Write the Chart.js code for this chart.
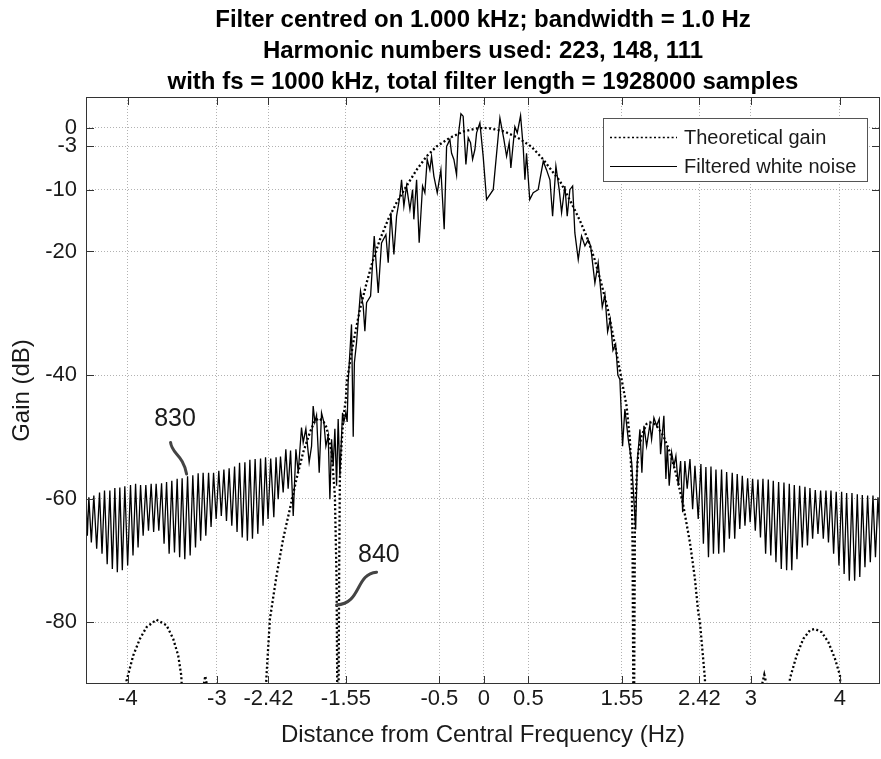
<!DOCTYPE html>
<html>
<head>
<meta charset="utf-8">
<script src="https://cdn.jsdelivr.net/npm/chart.js@4/dist/chart.umd.min.js"></script>
<style>
  html, body { margin: 0; padding: 0; background: #fff; }
</style>
</head>
<body>
<canvas id="canvas" width="881" height="759"></canvas>
<script>
// title, axis names and legend entries
let titleLines = [
  'Filter centred on 1.000 kHz; bandwidth = 1.0 Hz',
  'Harmonic numbers used: 223, 148, 111',
  'with fs = 1000 kHz, total filter length = 1928000 samples'
];
let xTitle = 'Distance from Central Frequency (Hz)';
let yTitle = 'Gain (dB)';
let seriesNames = ['Theoretical gain', 'Filtered white noise'];

// the odd tick positions the original figure uses
let xTicks = [-4, -3, -2.42, -1.55, -0.5, 0, 0.5, 1.55, 2.42, 3, 4];
let xTickLabels = ['-4', '-3', '-2.42', '-1.55', '-0.5', '0', '0.5', '1.55', '2.42', '3', '4'];
let yTicks = [0, -3, -10, -20, -40, -60, -80];

// theoretical gain (dotted); -100 = below the axis floor
let gainHz = [
  -4.47, -4.06, -4.015, -3.94, -3.865, -3.79, -3.678, -3.565, -3.49, -3.434,
  -3.40, -3.36, -3.20, -3.17, -3.13, -3.09, -3.06, -2.48, -2.442, -2.404,
  -2.33, -2.255, -2.18, -2.105, -2.03, -1.955, -1.899, -1.85, -1.80, -1.767,
  -1.711, -1.674, -1.655, -1.648, -1.644, -1.638, -1.632, -1.625, -1.618, -1.60,
  -1.58, -1.551, -1.54, -1.468, -1.393, -1.318, -1.244, -1.169, -1.075, -0.981,
  -0.869, -0.756, -0.644, -0.531, -0.382, -0.233, -0.082, 0, 0.082, 0.233,
  0.382, 0.531, 0.667, 0.756, 0.854, 0.981, 1.079, 1.169, 1.244, 1.318,
  1.393, 1.468, 1.547, 1.603, 1.64, 1.66, 1.67, 1.678, 1.682, 1.686,
  1.69, 1.697, 1.715, 1.734, 1.772, 1.828, 1.884, 1.94, 2.015, 2.09,
  2.165, 2.24, 2.315, 2.371, 2.408, 2.427, 2.483, 2.50, 3.08, 3.11,
  3.15, 3.19, 3.22, 3.41, 3.438, 3.513, 3.588, 3.663, 3.719, 3.794,
  3.869, 3.944, 4.0, 4.03, 4.45
];
let gainDb = [
  -100, -100, -89.5, -85.4, -82.7, -80.8, -79.6, -80.5, -82.7, -85.4,
  -88.6, -100, -100, -92, -88.7, -92, -100, -100, -88.6, -79.5,
  -72.5, -66.5, -61.7, -56.8, -52.5, -49.3, -47.4, -47.0, -47.6, -48.5,
  -52.5, -59.5, -73.0, -89.1, -100, -100, -89.0, -70.0, -56.8, -51.5,
  -47.1, -43.9, -41.0, -34.8, -29.4, -25.1, -21.3, -18.1, -14.8, -12.1,
  -9.4, -6.8, -4.6, -3.0, -1.6, -0.6, -0.1, 0, -0.1, -0.6,
  -1.6, -3.0, -5.1, -6.8, -8.6, -12.1, -15.0, -18.1, -21.3, -25.1,
  -29.4, -34.8, -40.7, -45.0, -50.4, -56.8, -67.6, -89.1, -100, -100,
  -85.0, -63.3, -56.8, -52.5, -49.8, -47.9, -47.6, -48.2, -49.8, -52.5,
  -56.3, -61.1, -67.1, -73.0, -78.4, -80.0, -89.1, -100, -100, -91,
  -88.5, -91, -100, -100, -89.1, -85.4, -82.7, -81.3, -81.1, -81.6,
  -83.2, -85.9, -88.6, -100, -100
];

// filtered white noise (solid), peaks and troughs
let noiseHz = [
  -4.470, -4.455, -4.438, -4.410, -4.382, -4.350, -4.318, -4.290, -4.262, -4.232,
  -4.202, -4.174, -4.146, -4.118, -4.090, -4.062, -4.034, -4.002, -3.970, -3.942,
  -3.913, -3.885, -3.857, -3.828, -3.798, -3.768, -3.738, -3.710, -3.682, -3.652,
  -3.621, -3.593, -3.565, -3.536, -3.506, -3.476, -3.446, -3.418, -3.390, -3.360,
  -3.329, -3.300, -3.270, -3.240, -3.210, -3.182, -3.154, -3.124, -3.093, -3.065,
  -3.037, -3.008, -2.978, -2.950, -2.921, -2.892, -2.862, -2.832, -2.801, -2.773,
  -2.745, -2.715, -2.685, -2.657, -2.629, -2.600, -2.570, -2.540, -2.509, -2.481,
  -2.453, -2.425, -2.395, -2.360, -2.335, -2.311, -2.285, -2.255, -2.225, -2.199,
  -2.172, -2.142, -2.112, -2.086, -2.049, -2.030, -2.000, -1.963, -1.936, -1.918,
  -1.899, -1.880, -1.850, -1.824, -1.798, -1.775, -1.749, -1.730, -1.711, -1.693,
  -1.674, -1.655, -1.637, -1.618, -1.588, -1.573, -1.551, -1.536, -1.525, -1.487,
  -1.468, -1.455, -1.431, -1.386, -1.356, -1.337, -1.318, -1.273, -1.232, -1.187,
  -1.150, -1.101, -1.075, -1.045, -1.011, -0.981, -0.944, -0.925, -0.899, -0.869,
  -0.831, -0.801, -0.787, -0.756, -0.727, -0.689, -0.663, -0.637, -0.607, -0.588,
  -0.562, -0.524, -0.483, -0.446, -0.419, -0.382, -0.363, -0.337, -0.307, -0.289,
  -0.258, -0.233, -0.202, -0.176, -0.150, -0.127, -0.101, -0.082, -0.045, -0.008,
  0.030, 0.105, 0.180, 0.225, 0.255, 0.284, 0.303, 0.348, 0.375, 0.412,
  0.442, 0.461, 0.479, 0.515, 0.554, 0.610, 0.629, 0.667, 0.704, 0.742,
  0.772, 0.809, 0.846, 0.873, 0.910, 0.936, 0.966, 0.997, 1.022, 1.060,
  1.097, 1.135, 1.172, 1.199, 1.247, 1.284, 1.330, 1.360, 1.390, 1.420,
  1.450, 1.480, 1.505, 1.528, 1.558, 1.584, 1.622, 1.660, 1.705, 1.723,
  1.753, 1.775, 1.798, 1.828, 1.865, 1.884, 1.910, 1.940, 1.970, 1.985,
  2.022, 2.045, 2.060, 2.082, 2.109, 2.135, 2.157, 2.184, 2.210, 2.233,
  2.258, 2.284, 2.315, 2.345, 2.371, 2.408, 2.438, 2.466, 2.494, 2.523,
  2.551, 2.579, 2.607, 2.638, 2.670, 2.699, 2.727, 2.758, 2.790, 2.818,
  2.846, 2.875, 2.903, 2.933, 2.963, 2.991, 3.019, 3.049, 3.079, 3.107,
  3.135, 3.165, 3.195, 3.223, 3.251, 3.281, 3.311, 3.341, 3.371, 3.401,
  3.431, 3.459, 3.487, 3.517, 3.547, 3.577, 3.607, 3.635, 3.663, 3.693,
  3.723, 3.753, 3.783, 3.813, 3.843, 3.871, 3.899, 3.929, 3.958, 3.989,
  4.019, 4.047, 4.075, 4.105, 4.135, 4.165, 4.195, 4.223, 4.251, 4.281,
  4.311, 4.341, 4.371, 4.399, 4.427, 4.450
];
let noiseDb = [
  -60.0, -66.0, -59.8, -67.1, -59.5, -68.1, -59.0, -68.9, -58.7, -70.6,
  -58.7, -71.4, -58.3, -71.9, -58.2, -71.6, -58.0, -70.8, -57.8, -69.2,
  -57.6, -67.9, -57.8, -66.0, -57.8, -65.2, -57.6, -65.4, -57.6, -65.2,
  -57.5, -67.3, -57.3, -68.9, -57.1, -68.7, -56.8, -69.5, -56.7, -69.8,
  -56.4, -69.2, -56.2, -67.9, -55.9, -66.8, -55.8, -66.0, -55.8, -64.6,
  -55.8, -63.3, -55.5, -62.8, -55.3, -63.6, -55.1, -64.4, -54.8, -65.4,
  -54.2, -66.3, -54.1, -66.8, -53.7, -66.5, -53.6, -65.7, -53.5, -64.4,
  -53.3, -63.3, -53.5, -63.0, -53.3, -60.1, -53.2, -59.0, -52.0, -58.4,
  -52.2, -62.8, -52.0, -55.8, -48.5, -50.9, -48.7, -54.1, -51.5, -45.0,
  -47.6, -46.5, -55.8, -46.1, -47.6, -51.5, -49.8, -60.1, -50.4, -54.7,
  -48.7, -57.9, -47.1, -56.3, -46.1, -47.6, -46.1, -47.6, -41.2, -31.8,
  -50.0, -38.0, -34.8, -26.4, -28.8, -32.9, -28.3, -27.2, -17.5, -26.7,
  -18.6, -17.3, -21.8, -13.7, -20.5, -14.3, -11.1, -8.4, -12.7, -9.4,
  -13.2, -10.0, -14.8, -8.4, -18.6, -9.4, -10.5, -5.1, -6.8, -4.6,
  -7.8, -10.5, -6.8, -16.4, -3.0, -1.9, -4.1, -5.1, -7.6, -1.4,
  2.3, 1.9, -5.9, -1.6, -2.4, -5.1, -3.5, -0.8, 0.8, -4.6,
  -11.6, -10.0, 1.6, -1.9, -4.6, -2.4, -6.5, 0.2, -0.8, 2.0,
  -3.2, -8.4, -4.1, -11.6, -10.5, -10.0, -8.4, -5.4, -6.8, -8.4,
  -14.3, -6.2, -10.0, -13.7, -9.4, -14.3, -10.0, -9.4, -17.0, -21.3,
  -17.5, -19.1, -18.1, -19.1, -25.1, -21.8, -29.0, -27.0, -33.0, -31.0,
  -36.0, -35.0, -40.0, -40.7, -51.5, -45.5, -50.4, -54.1, -65.0, -54.1,
  -48.8, -55.8, -48.2, -51.5, -48.0, -50.4, -46.9, -48.2, -47.1, -52.8,
  -46.6, -56.8, -51.5, -57.9, -52.5, -54.7, -53.1, -57.9, -53.9, -62.2,
  -53.9, -58.4, -53.6, -61.7, -54.7, -63.3, -54.4, -67.3, -54.9, -69.5,
  -54.8, -68.9, -55.3, -68.9, -55.3, -68.7, -55.7, -66.5, -55.8, -66.5,
  -56.0, -64.9, -56.3, -64.4, -56.7, -63.8, -56.8, -65.2, -56.9, -66.3,
  -56.8, -68.9, -56.9, -69.2, -57.1, -70.3, -57.3, -71.4, -57.4, -71.6,
  -57.6, -71.6, -57.8, -69.8, -57.9, -67.9, -58.1, -67.6, -58.3, -66.5,
  -58.6, -65.7, -58.7, -66.5, -58.7, -67.1, -58.7, -68.9, -58.9, -70.8,
  -58.9, -72.2, -59.1, -73.3, -59.1, -73.3, -59.3, -72.7, -59.4, -71.1,
  -59.5, -70.3, -59.5, -69.5, -59.8, -66.0
];

// patent-style reference numerals with their curly leaders (data units)
let callouts = [
  { text: '830', at: [-3.47, -47.1],
    path: [[-3.520, -50.9], [-3.506, -52.8], [-3.382, -52.8], [-3.340, -56.0]] },
  { text: '840', at: [-1.18, -69.1],
    path: [[-1.206, -71.9], [-1.449, -72.2], [-1.371, -77.0], [-1.655, -77.2]] }
];

let FONT = "'Liberation Sans', Arial, Helvetica, sans-serif";
let INK = '#1a1a1a';

function toPoints(xs, ys) {
  let pts = [];
  for (let i = 0; i < xs.length; i++) pts.push({ x: xs[i], y: ys[i] });
  return pts;
}

// box, inward ticks, legend, callouts and the centred title
let decorations = {
  id: 'decorations',
  afterDatasetsDraw(chart) {
    let ctx = chart.ctx;
    let a = chart.chartArea;
    let xs = chart.scales.x, ys = chart.scales.y;
    ctx.save();

    // frame + ticks on all four sides
    ctx.strokeStyle = '#333';
    ctx.lineWidth = 1;
    ctx.strokeRect(a.left + 0.5, a.top + 0.5, a.width - 1, a.height - 1);
    ctx.beginPath();
    xTicks.forEach(v => {
      let px = Math.round(xs.getPixelForValue(v)) + 0.5;
      ctx.moveTo(px, a.bottom); ctx.lineTo(px, a.bottom - 8);
      ctx.moveTo(px, a.top); ctx.lineTo(px, a.top + 8);
    });
    yTicks.forEach(v => {
      let py = Math.round(ys.getPixelForValue(v)) + 0.5;
      ctx.moveTo(a.left, py); ctx.lineTo(a.left + 8, py);
      ctx.moveTo(a.right, py); ctx.lineTo(a.right - 8, py);
    });
    ctx.stroke();

    // callouts
    ctx.strokeStyle = '#444';
    ctx.lineWidth = 3;
    ctx.lineCap = 'round';
    ctx.fillStyle = INK;
    ctx.font = '25px ' + FONT;
    ctx.textAlign = 'center';
    ctx.textBaseline = 'middle';
    callouts.forEach(c => {
      let p = c.path.map(q => [xs.getPixelForValue(q[0]), ys.getPixelForValue(q[1])]);
      ctx.beginPath();
      ctx.moveTo(p[0][0], p[0][1]);
      ctx.bezierCurveTo(p[1][0], p[1][1], p[2][0], p[2][1], p[3][0], p[3][1]);
      ctx.stroke();
      ctx.fillText(c.text, xs.getPixelForValue(c.at[0]), ys.getPixelForValue(c.at[1]));
    });

    // legend box, top right inside the axes
    let lw = 264, lh = 63;
    let lx = a.right - 13 - lw, ly = a.top + 21;
    ctx.fillStyle = '#fff';
    ctx.fillRect(lx, ly, lw, lh);
    ctx.strokeStyle = '#555';
    ctx.lineWidth = 1;
    ctx.strokeRect(lx + 0.5, ly + 0.5, lw, lh);
    let rows = [ly + 19, ly + 48];
    chart.data.datasets.forEach((ds, i) => {
      ctx.beginPath();
      ctx.strokeStyle = ds.borderColor;
      ctx.lineWidth = ds.borderDash ? 1.6 : 1;
      ctx.lineCap = 'butt';
      ctx.setLineDash(ds.borderDash || []);
      ctx.moveTo(lx + 7, rows[i] + 0.5);
      ctx.lineTo(lx + 74, rows[i] + 0.5);
      ctx.stroke();
      ctx.setLineDash([]);
      ctx.fillStyle = INK;
      ctx.font = '20px ' + FONT;
      ctx.textAlign = 'left';
      ctx.fillText(ds.label, lx + 81, rows[i] + 1);
    });
    ctx.restore();
  },
  afterDraw(chart) {
    let ctx = chart.ctx;
    let a = chart.chartArea;
    ctx.save();
    ctx.fillStyle = '#000';
    ctx.font = 'bold 24px ' + FONT;
    ctx.textAlign = 'center';
    ctx.textBaseline = 'alphabetic';
    let cx = (a.left + a.right) / 2;
    titleLines.forEach((t, i) => ctx.fillText(t, cx, 27 + i * 31));
    ctx.restore();
  }
};

let gridColor = 'rgba(0,0,0,0.3)';

let options = {
  type: 'line',
  data: {
    datasets: [{
      label: seriesNames[0],
      data: toPoints(gainHz, gainDb),
      borderColor: '#000',
      borderWidth: 2.3,
      borderDash: [2, 2.4],
      pointRadius: 0,
      fill: false,
      tension: 0,
      order: 0
    }, {
      label: seriesNames[1],
      data: toPoints(noiseHz, noiseDb),
      borderColor: '#000',
      borderWidth: 1.3,
      pointRadius: 0,
      fill: false,
      tension: 0,
      order: 1
    }]
  },
  options: {
    responsive: false,
    animation: false,
    events: [],
    layout: { padding: { top: 97, right: 1, bottom: 0, left: 0 } },
    plugins: {
      legend: { display: false },
      tooltip: { enabled: false },
      title: { display: false }
    },
    scales: {
      x: {
        type: 'linear',
        min: -4.47,
        max: 4.45,
        afterBuildTicks: axis => { axis.ticks = xTicks.map(v => ({ value: v })); },
        afterFit: axis => { axis.height = 75; },
        ticks: {
          autoSkip: false,
          maxRotation: 0,
          padding: 2,
          color: INK,
          font: { family: FONT, size: 22 },
          callback: v => xTickLabels[xTicks.indexOf(v)]
        },
        grid: { drawTicks: false, color: gridColor, lineWidth: 1 },
        border: { display: false, dash: [1, 2] },
        title: {
          display: true, text: xTitle, color: INK,
          font: { family: FONT, size: 24 },
          padding: { top: 0, bottom: 9 }
        }
      },
      y: {
        type: 'linear',
        min: -90,
        max: 5,
        afterBuildTicks: axis => { axis.ticks = yTicks.map(v => ({ value: v })); },
        afterFit: axis => { axis.width = 86; },
        ticks: {
          autoSkip: false,
          padding: 9,
          color: INK,
          font: { family: FONT, size: 22 },
          callback: v => String(v)
        },
        grid: { drawTicks: false, color: gridColor, lineWidth: 1 },
        border: { display: false, dash: [1, 2] },
        title: {
          display: true, text: yTitle, color: INK,
          font: { family: FONT, size: 24 },
          padding: { top: 8, bottom: 0 }
        }
      }
    }
  },
  plugins: [decorations]
};

let chart = new Chart(document.getElementById('canvas'), options);
</script>
</body>
</html>
